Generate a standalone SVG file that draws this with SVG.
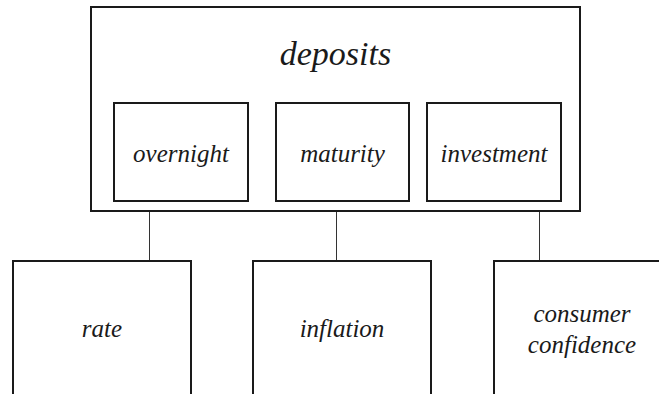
<svg xmlns="http://www.w3.org/2000/svg" width="659" height="394" viewBox="0 0 659 394">
<style>
.box{fill:#fff;stroke:#1a1a1a;stroke-width:2}
#connectors line{stroke:#333;stroke-width:1}
</style>
<rect width="659" height="394" fill="#fff"/>
<g id="connectors">
<line x1="149.5" y1="211" x2="149.5" y2="261"/>
<line x1="336.5" y1="211" x2="336.5" y2="261"/>
<line x1="539.5" y1="211" x2="539.5" y2="261"/>
</g>
<g id="deposits">
<rect class="box" x="91" y="7" width="489" height="204"/>
<text x="335.5" y="65" style="font-family:'Liberation Serif','Times New Roman',serif !important;font-style:italic !important;font-size:34px;fill:#1a1a1a;text-anchor:middle">deposits</text>
</g>
<g id="overnight">
<rect class="box" x="114" y="103" width="134" height="98"/>
<text x="181" y="162" style="font-family:'Liberation Serif','Times New Roman',serif !important;font-style:italic !important;font-size:25px;fill:#1a1a1a;text-anchor:middle">overnight</text>
</g>
<g id="maturity">
<rect class="box" x="276" y="103" width="133" height="98"/>
<text x="342.5" y="162" style="font-family:'Liberation Serif','Times New Roman',serif !important;font-style:italic !important;font-size:25px;fill:#1a1a1a;text-anchor:middle">maturity</text>
</g>
<g id="investment">
<rect class="box" x="427" y="103" width="134" height="98"/>
<text x="494" y="162" style="font-family:'Liberation Serif','Times New Roman',serif !important;font-style:italic !important;font-size:25px;fill:#1a1a1a;text-anchor:middle">investment</text>
</g>
<g id="rate">
<rect class="box" x="13" y="261" width="178" height="150"/>
<text x="102" y="337" style="font-family:'Liberation Serif','Times New Roman',serif !important;font-style:italic !important;font-size:25px;fill:#1a1a1a;text-anchor:middle">rate</text>
</g>
<g id="inflation">
<rect class="box" x="253" y="261" width="178" height="150"/>
<text x="342" y="337" style="font-family:'Liberation Serif','Times New Roman',serif !important;font-style:italic !important;font-size:25px;fill:#1a1a1a;text-anchor:middle">inflation</text>
</g>
<g id="consumer-confidence">
<rect class="box" x="494" y="261" width="178" height="150"/>
<text x="582" y="322" style="font-family:'Liberation Serif','Times New Roman',serif !important;font-style:italic !important;font-size:25px;fill:#1a1a1a;text-anchor:middle">consumer</text>
<text x="582" y="353" style="font-family:'Liberation Serif','Times New Roman',serif !important;font-style:italic !important;font-size:25px;fill:#1a1a1a;text-anchor:middle">confidence</text>
</g>
</svg>
